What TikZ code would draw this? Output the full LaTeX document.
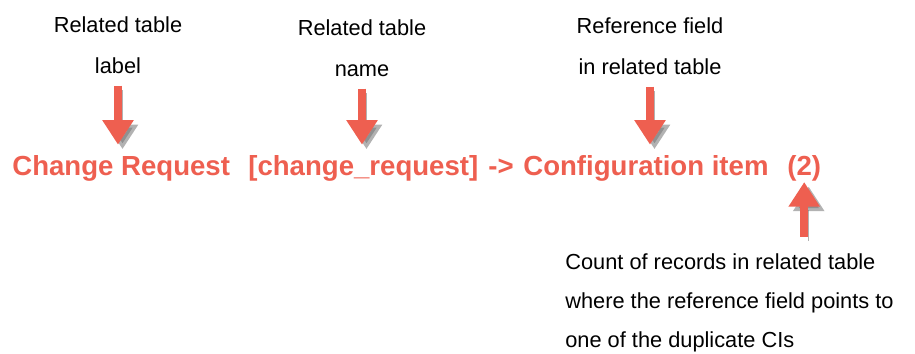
\documentclass[tikz,border=0pt]{standalone}
\usepackage{fontspec}
\setmainfont{Liberation Sans}
\usetikzlibrary{positioning,arrows.meta}
\definecolor{calloutred}{RGB}{238,95,80}
\tikzset{
  notetext/.style={inner sep=0pt, align=center, font=\fontsize{12.4}{23}\selectfont},
  counttext/.style={inner sep=0pt, align=left, font=\fontsize{12.4}{22}\selectfont},
  fieldtext/.style={inner sep=0pt, anchor=base west, text=calloutred, font=\fontsize{15.7}{18}\selectfont\bfseries},
  pointer/.style={-{Triangle[width=17pt,length=14pt]}, line width=4.4pt, draw=calloutred,
    preaction={draw=black!55, opacity=.55, -{Triangle[width=17pt,length=14pt]},
      transform canvas={shift={(0.09cm,-0.09cm)}}}}
}

\begin{document}
\begin{tikzpicture}[x=0.02cm, y=-0.02cm]
  \useasboundingbox (0,0) rectangle (915,353);
  % the red line
  \node[fieldtext] (crlabel) at (12,175) {Change Request};
  \node[fieldtext] (crname) at (248,175) {[change\_request]};
  \node[fieldtext] (crsep) at (488,175) {->};
  \node[fieldtext] (cifield) at (523,175) {Configuration item};
  \node[fieldtext] (cicount) at (787,175) {(2)};
  % notes (base = last line)
  \node[notetext, anchor=base] (lbllabel) at (118,73) {Related table\\label};
  \node[notetext, anchor=base] (lblname) at (362,76) {Related table\\name};
  \node[notetext, anchor=base] (lblfield) at (650,74) {Reference field\\in related table};
  \node[counttext, anchor=base west] (lblcount) at (565,347) {Count of records in related table\\where the reference field points to\\one of the duplicate CIs};
  % pointers
  \draw[pointer, shorten <=0.24cm, shorten >=0.2cm] (lbllabel.south) -- (lbllabel.south |- crlabel.north);
  \draw[pointer, shorten <=0.24cm, shorten >=0.2cm] (lblname.south) -- (lblname.south |- crname.north);
  \draw[pointer, shorten <=0.24cm, shorten >=0.2cm] (lblfield.south) -- (lblfield.south |- cifield.north);
  \draw[pointer, shorten <=0.34cm, shorten >=0.02cm] (cicount.south |- lblcount.north) -- (cicount.south);
\end{tikzpicture}
\end{document}
